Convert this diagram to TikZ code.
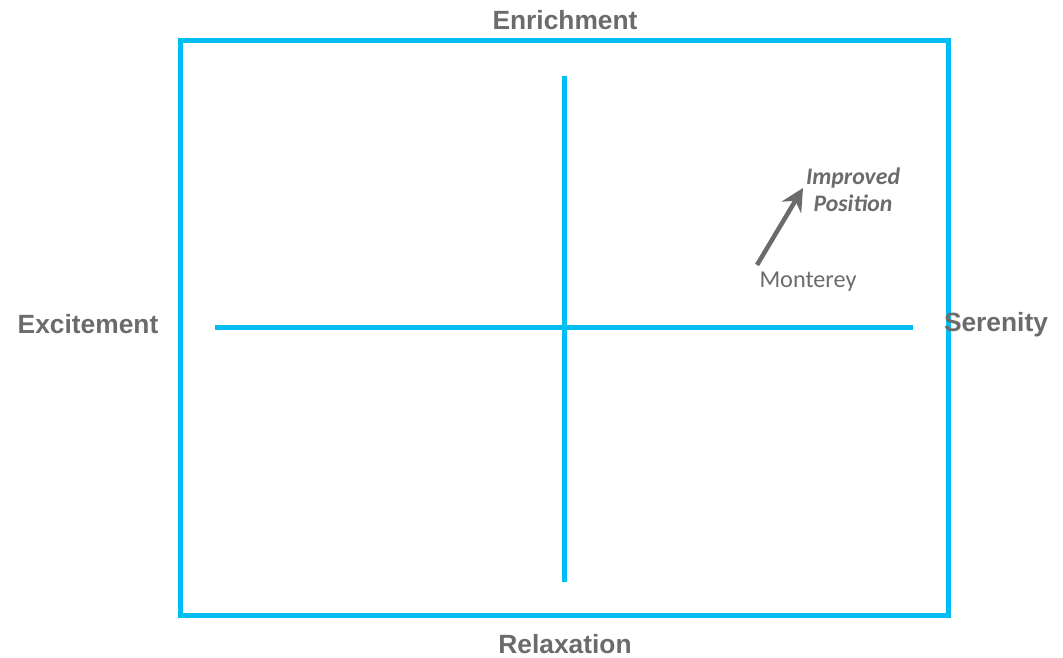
\documentclass[tikz,border=0pt]{standalone}
\usepackage{fontspec}
\setmainfont{Liberation Sans}
\newfontfamily\calib{Carlito}
\usepackage{tikz}
\usetikzlibrary{arrows.meta, positioning}
\definecolor{axiscyan}{HTML}{00BEF2}
\definecolor{labelgray}{HTML}{6B6B6B}
\tikzset{
  axisline/.style={axiscyan, line width=0.1cm},
  axislabel/.style={labelgray, font=\fontsize{15}{15}\selectfont\bfseries},
  pointlabel/.style={labelgray, font=\calib\fontsize{13.8}{13.8}\selectfont},
  movearrow/.style={labelgray, line width=0.09cm, -{Stealth[length=0.45cm, width=0.45cm, inset=0.15cm]}}
}

\begin{document}
\begin{tikzpicture}[x=0.02cm, y=-0.02cm]
  % Canvas
  \useasboundingbox (0,0) rectangle (1063,658);

  % Frame and axes
  \draw[axisline] (180,41) rectangle (948,616);
  \draw[axisline] (564,76) -- (564,582);
  \draw[axisline] (215,328) -- (913,328);

  % Axis labels
  \node[axislabel] (top) at (565,20) {Enrichment};
  \node[axislabel] (bottom) at (565,644) {Relaxation};
  \node[axislabel] (left) at (88,324) {Excitement};
  \node[axislabel] (right) at (996,325) {Serenity};

  % Monterey and its move
  \node[pointlabel] (monterey) at (808,282) {Monterey};
  \node[pointlabel, font=\calib\fontsize{13.5}{15.4}\selectfont\bfseries\itshape, align=center] (improved) at (853,190) {Improved\\Position};
  \coordinate (from) at (757,265);
  \coordinate (to) at (803,188);
  \draw[movearrow] (from) -- (to);
\end{tikzpicture}
\end{document}
